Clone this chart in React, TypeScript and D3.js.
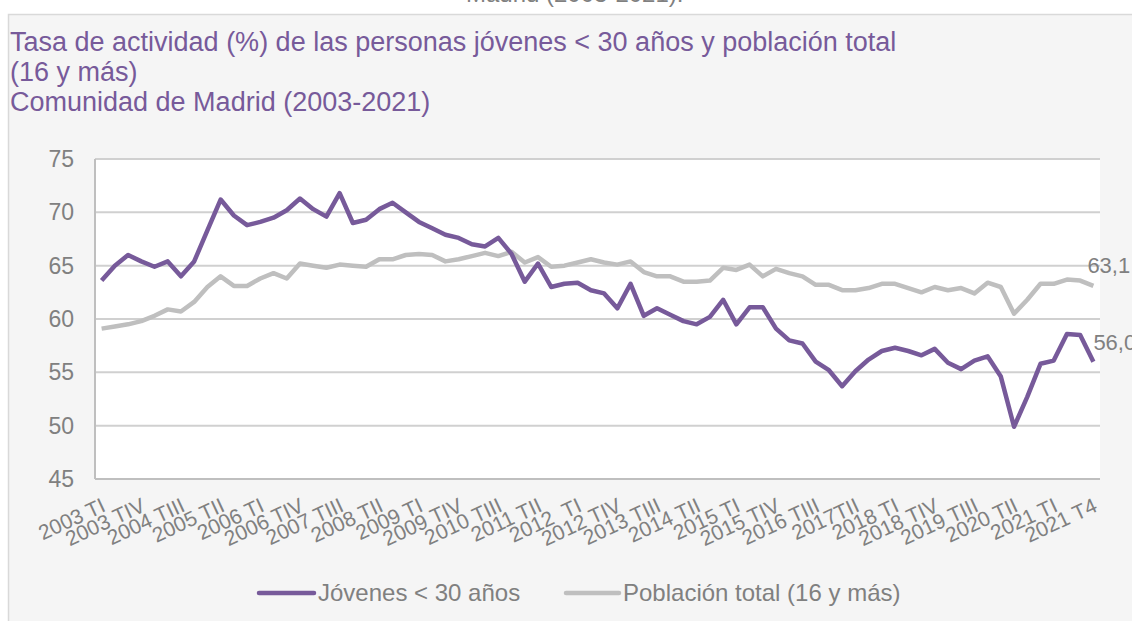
import React from 'react';
import * as d3 from 'd3';

const years = [2003, 2004, 2005, 2006, 2007, 2008, 2009, 2010, 2011, 2012, 2013, 2014, 2015, 2016, 2017, 2018, 2019, 2020, 2021];
const quarters = ['TI', 'TII', 'TIII', 'TIV'];
const categories = years.flatMap(y => quarters.map(q => `${y} ${q}`));

// labels shown on the axis (every third quarter)
const tickLabels = [
  '2003 TI', '2003 TIV', '2004 TIII', '2005 TII', '2006 TI', '2006 TIV', '2007 TIII', '2008 TII',
  '2009 TI', '2009 TIV', '2010 TIII', '2011 TII', '2012  TI', '2012 TIV', '2013 TIII', '2014 TII',
  '2015 TI', '2015 TIV', '2016 TIII', '2017TII', '2018 TI', '2018 TIV', '2019 TIII', '2020 TII',
  '2021 TI', '2021 T4',
];

const jovenes = [
  63.6, 65.0, 66.0, 65.4, 64.9, 65.4, 64.0, 65.4, 68.3, 71.2, 69.7, 68.8, 69.1, 69.5, 70.2, 71.3,
  70.3, 69.6, 71.8, 69.0, 69.3, 70.3, 70.9, 70.0, 69.1, 68.5, 67.9, 67.6, 67.0, 66.8, 67.6, 66.1,
  63.5, 65.2, 63.0, 63.3, 63.4, 62.7, 62.4, 61.0, 63.3, 60.3, 61.0, 60.4, 59.8, 59.5, 60.2, 61.8,
  59.5, 61.1, 61.1, 59.1, 58.0, 57.7, 56.0, 55.2, 53.7, 55.1, 56.2, 57.0, 57.3, 57.0, 56.6, 57.2,
  55.9, 55.3, 56.1, 56.5, 54.6, 49.9, 52.7, 55.8, 56.1, 58.6, 58.5, 56.0,
];

const poblacion = [
  59.1, 59.3, 59.5, 59.8, 60.3, 60.9, 60.7, 61.6, 63.0, 64.0, 63.1, 63.1, 63.8, 64.3, 63.8, 65.2,
  65.0, 64.8, 65.1, 65.0, 64.9, 65.6, 65.6, 66.0, 66.1, 66.0, 65.4, 65.6, 65.9, 66.2, 65.9, 66.3,
  65.3, 65.8, 64.9, 65.0, 65.3, 65.6, 65.3, 65.1, 65.4, 64.4, 64.0, 64.0, 63.5, 63.5, 63.6, 64.8,
  64.6, 65.1, 64.0, 64.7, 64.3, 64.0, 63.2, 63.2, 62.7, 62.7, 62.9, 63.3, 63.3, 62.9, 62.5, 63.0,
  62.7, 62.9, 62.4, 63.4, 63.0, 60.5, 61.8, 63.3, 63.3, 63.7, 63.6, 63.1,
];

const yTicks = [45, 50, 55, 60, 65, 70, 75];

const PURPLE = '#775a9a';
const GREY_LINE = '#bfbfbf';
const TEXT_GREY = '#808080';
const FONT = '"Liberation Sans", Arial, sans-serif';

export default function App() {
  const x = d3.scaleBand<string>().domain(categories).range([95, 1100]);
  const y = d3.scaleLinear().domain([45, 75]).range([479, 159]);
  const cx = (i: number) => (x(categories[i]) as number) + x.bandwidth() / 2;

  const line = d3
    .line<number>()
    .x((_, i) => cx(i))
    .y(d => y(d));

  const last = categories.length - 1;

  return (
    <div style={{ position: 'absolute', left: 0, top: 0 }}>
      <svg width={1132} height={621} style={{ display: 'block', fontFamily: FONT }}>
        <rect x={0} y={0} width={1132} height={621} fill="#fff" />
        <text x={466} y={2} fontSize={24} fill={TEXT_GREY}>Madrid (2003-2021).</text>

        {/* chart panel */}
        <rect x={8.5} y={14.5} width={1140} height={620} fill="#f5f5f5" stroke="#d9d9d9" strokeWidth={1.5} />

        <text fontSize={27} fill={PURPLE}>
          <tspan x={10} y={51}>Tasa de actividad (%) de las personas jóvenes &lt; 30 años y población total</tspan>
          <tspan x={10} y={81}>(16 y más)</tspan>
          <tspan x={10} y={111}>Comunidad de Madrid (2003-2021)</tspan>
        </text>

        {/* plot area */}
        <rect x={95} y={159} width={1005} height={320} fill="#fff" />
        {yTicks.map(t => (
          <g key={t}>
            {t > 45 && (
              <line x1={95} x2={1100} y1={y(t)} y2={y(t)} stroke="#d0d0d0" strokeWidth={2} />
            )}
            <text x={74} y={y(t)} dy="0.35em" textAnchor="end" fontSize={23} fill={TEXT_GREY}>
              {t}
            </text>
          </g>
        ))}
        <line x1={95} x2={95} y1={159} y2={479} stroke="#bfbfbf" strokeWidth={2} />
        <line x1={95} x2={1100} y1={479} y2={479} stroke="#bfbfbf" strokeWidth={2} />

        {tickLabels.map((lab, k) => (
          <text
            key={lab}
            transform={`translate(${cx(k * 3) - 1},${497}) rotate(-25)`}
            dy="0.71em"
            textAnchor="end"
            fontSize={21}
            fill={TEXT_GREY}
            style={{ whiteSpace: 'pre' }}
          >
            {lab}
          </text>
        ))}

        <path d={line(poblacion) ?? ''} fill="none" stroke={GREY_LINE} strokeWidth={4.5} strokeLinejoin="round" />
        <path d={line(jovenes) ?? ''} fill="none" stroke={PURPLE} strokeWidth={4.5} strokeLinejoin="round" />

        <text x={cx(last) - 6} y={y(poblacion[last]) - 13} fontSize={22} fill={TEXT_GREY}>
          {poblacion[last].toFixed(1).replace('.', ',')}
        </text>
        <text x={cx(last)} y={y(jovenes[last]) - 12} fontSize={22} fill={TEXT_GREY}>
          {jovenes[last].toFixed(1).replace('.', ',')}
        </text>

        {/* legend */}
        <line x1={259} x2={314} y1={593} y2={593} stroke={PURPLE} strokeWidth={4.5} strokeLinecap="round" />
        <text x={318} y={601} fontSize={24} fill={TEXT_GREY}>Jóvenes &lt; 30 años</text>
        <line x1={566} x2={619} y1={593} y2={593} stroke={GREY_LINE} strokeWidth={4.5} strokeLinecap="round" />
        <text x={623} y={601} fontSize={24} fill={TEXT_GREY}>Población total (16 y más)</text>
      </svg>
    </div>
  );
}
